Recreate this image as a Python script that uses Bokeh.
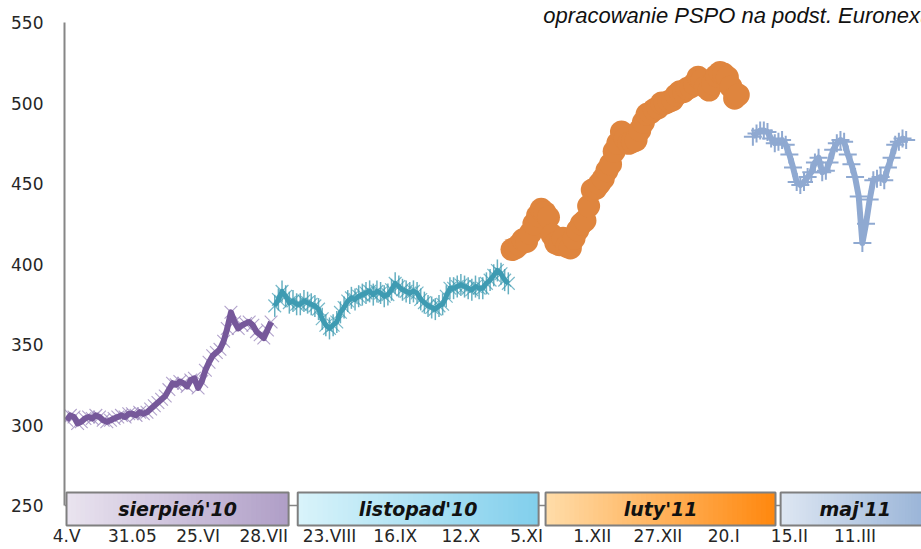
import math
from bokeh.plotting import figure
from bokeh.models import Range1d, FixedTicker, Span
from bokeh.core.properties import value
from bokeh.embed import file_html
from bokeh.resources import INLINE

# ---------------- data ----------------
tick_idx = [0, 18, 36, 54, 72, 90, 108, 126, 144, 162, 180, 198, 216]
tick_labels = ["4.V", "31.05", "25.VI", "28.VII", "23.VIII", "16.IX", "12.X",
               "5.XI", "1.XII", "27.XII", "20.I", "15.II", "11.III"]
y_ticks = [250, 300, 350, 400, 450, 500, 550]

purple_start = 0
purple_vals = [303, 306, 305, 301, 302, 304, 305, 304, 306, 305, 303, 302, 303, 304,
               305, 306, 305, 307, 307, 306, 308, 307, 308, 310, 312, 314, 316, 318,
               322, 326, 325, 327, 326, 324, 328, 329, 323, 327, 334, 339, 343, 345,
               347, 352, 360, 370, 364, 360, 362, 363, 364, 362, 358, 356, 354, 359, 364]

teal_start = 57
teal_vals = [374, 378, 383, 380, 376, 377, 375, 375, 377, 376, 375, 374, 372, 366,
             362, 360, 362, 364, 370, 373, 377, 379, 378, 380, 381, 382, 383, 381,
             383, 382, 380, 381, 384, 388, 386, 384, 383, 382, 383, 382, 378, 376,
             374, 373, 372, 374, 375, 380, 385, 385, 386, 387, 386, 385, 384, 386,
             385, 385, 388, 390, 393, 396, 394, 390, 388]

orange_start = 122
orange_vals = [409, 410, 412, 415, 414, 419, 425, 430, 434, 432, 429, 418, 413, 412,
               416, 411, 410, 416, 421, 425, 427, 436, 446, 447, 450, 453, 458, 462,
               470, 475, 482, 478, 475, 476, 477, 483, 488, 493, 494, 496, 497, 500,
               500, 501, 502, 505, 507, 507, 509, 510, 512, 516, 514, 510, 508, 512,
               517, 519, 518, 516, 510, 503, 505]

blue_start = 188
blue_vals = [479, 481, 483, 483, 482, 478, 475, 476, 477, 474, 468, 460, 451, 449,
             451, 454, 457, 463, 466, 457, 458, 463, 471, 475, 477, 476, 468, 462,
             454, 442, 413, 425, 440, 452, 453, 454, 452, 460, 466, 474, 476, 478, 477]

months = ["sierpień'10", "listopad'10", "luty'11", "maj'11"]
source_note = "opracowanie PSPO na podst. Euronext"

# ---------------- layout / style ----------------
box_left = [-0.05, 63.3, 131.2, 195.6]
box_right = [60.8, 129.3, 194.2, 236.5]
box_bottom, box_top = 237.6, 258.1
grad_from = ["#E9E3EF", "#D8F3FA", "#FFDCA8", "#DDE6F2"]
grad_to = ["#B09FC7", "#82CFEC", "#FF880F", "#98B3D7"]
note_x, note_y = 130.6, 554.3

p = figure(width=921, height=549, output_backend="svg", toolbar_location=None,
           x_range=Range1d(-0.6, 234.2), y_range=Range1d(234.5, 563.66),
           min_border_left=64, min_border_right=0, min_border_top=0,
           min_border_bottom=19, background_fill_color="white",
           border_fill_color="white")
p.outline_line_color = None
p.grid.visible = False

# axes
p.yaxis.ticker = FixedTicker(ticks=y_ticks)
p.yaxis.bounds = (y_ticks[0], y_ticks[-1])
p.yaxis.axis_line_color = "#868686"
p.yaxis.axis_line_width = 2
p.yaxis.major_tick_out = 0
p.yaxis.major_tick_in = 0
p.yaxis.major_tick_line_color = None
p.yaxis.minor_tick_line_color = None
p.yaxis.major_label_standoff = 21
p.yaxis.major_label_text_font = "DejaVu Sans"
p.yaxis.major_label_text_font_size = "17px"
p.yaxis.major_label_text_color = "#262626"

p.xaxis.ticker = FixedTicker(ticks=tick_idx)
p.xaxis.major_label_overrides = {t: l for t, l in zip(tick_idx, tick_labels)}
p.xaxis.axis_line_color = None
p.xaxis.major_tick_out = 0
p.xaxis.major_tick_in = 0
p.xaxis.major_tick_line_color = None
p.xaxis.minor_tick_line_color = None
p.xaxis.major_label_standoff = -5
p.xaxis.major_label_text_font = "DejaVu Sans"
p.xaxis.major_label_text_font_size = "17px"
p.xaxis.major_label_text_color = "#262626"

p.add_layout(Span(location=y_ticks[0], dimension="width", line_color="#868686",
                  line_width=1.5, level="underlay"))

def xs_for(start, vals):
    return list(range(start, start + len(vals)))

# purple series
xp = xs_for(purple_start, purple_vals)
p.scatter(xp, purple_vals, marker="x", size=18, line_color="#9783B9",
          line_alpha=0.75, line_width=1.1)
p.line(xp, purple_vals, line_color="#76589A", line_width=6, line_join="round")

# teal series (star marker: x plus vertical bar)
xt = xs_for(teal_start, teal_vals)
p.scatter(xt, teal_vals, marker="x", size=18, line_color="#3E9BB2",
          line_alpha=0.7, line_width=1.2)
p.scatter(xt, teal_vals, marker="dash", angle=math.pi / 2, size=22,
          line_color="#3E9BB2", line_alpha=0.8, line_width=1.5)
p.line(xt, teal_vals, line_color="#3E9BB2", line_width=5, line_join="round")

# orange series
xo = xs_for(orange_start, orange_vals)
p.line(xo, orange_vals, line_color="#DF853E", line_width=6)
p.scatter(xo, orange_vals, marker="circle", size=23, fill_color="#DF853E",
          line_color=None)

# blue series
xb = xs_for(blue_start, blue_vals)
p.line(xb, blue_vals, line_color="#8FA9D1", line_width=6, line_join="round")
p.scatter(xb, blue_vals, marker="cross", size=18, line_color="#8FA9D1",
          line_width=2)

# month boxes with gradient
def h2rgb(h):
    h = h.lstrip("#")
    return tuple(int(h[i:i + 2], 16) for i in (0, 2, 4))

n = 48
for bl, br, c0, c1 in zip(box_left, box_right, grad_from, grad_to):
    a, b = h2rgb(c0), h2rgb(c1)
    w = (br - bl) / n
    ls, rs, cs = [], [], []
    for k in range(n):
        t = k / (n - 1)
        col = "#%02x%02x%02x" % tuple(round(a[j] + (b[j] - a[j]) * t) for j in range(3))
        ls.append(bl + k * w)
        rs.append(min(br, bl + (k + 1) * w + w * 0.3))
        cs.append(col)
    p.quad(left=ls, right=rs, bottom=box_bottom, top=box_top, fill_color=cs,
           line_color=None)
p.quad(left=box_left, right=box_right, bottom=box_bottom, top=box_top,
       fill_color=None, line_color="#7F7F7F", line_width=2)
p.text(x=[(l + r) / 2 for l, r in zip(box_left, box_right)],
       y=[(box_bottom + box_top) / 2] * len(months), text=months,
       text_font=value("DejaVu Sans"), text_font_style="bold italic",
       text_font_size="19px", text_align="center", text_baseline="middle",
       text_color="#111111")

# source note (top right, runs up to the right edge as in the original)
p.text(x=[note_x], y=[note_y], text=[source_note],
       text_font=value("Liberation Sans"), text_font_style="italic",
       text_font_size="22px", text_align="left", text_baseline="alphabetic",
       text_color="#111111")

open("out.html", "w").write(file_html(p, INLINE))
